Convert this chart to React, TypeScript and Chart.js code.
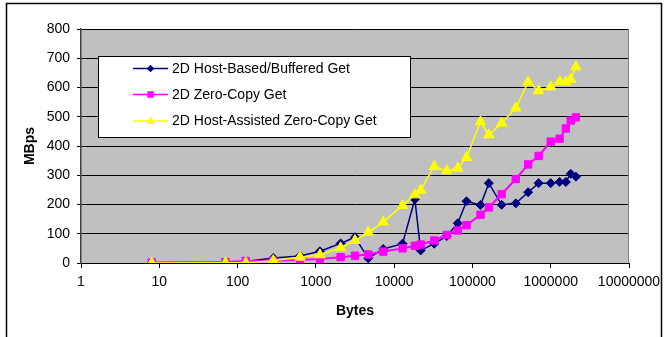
import React, { useEffect, useRef } from 'react';
import { Chart, registerables } from 'chart.js';

Chart.register(...registerables);

const bytes = [8, 70, 127, 286, 627, 1128, 2072, 3160, 4670, 7260, 12800, 18400, 21800, 32500, 47000, 65000, 84000, 127000, 162000, 236000, 358000, 515000, 700000, 1000000, 1300000, 1560000, 1800000, 2100000];
const hostBuffered = [0, 2, 5, 17, 24, 40, 67, 88, 16, 48, 66, 218, 43, 66, 92, 136, 211, 198, 273, 199, 204, 242, 273, 273, 277, 277, 305, 295];
const zeroCopy = [2, 3, 7, 8, 10, 14, 20, 25, 29, 39, 50, 59, 63, 77, 96, 111, 129, 165, 190, 235, 287, 337, 366, 415, 425, 460, 487, 498];
const hostAssisted = [0, 1, 1, 8, 20, 28, 52, 77, 105, 140, 197, 233, 249, 330, 315, 324, 361, 483, 438, 478, 530, 619, 589, 602, 620, 619, 628, 671];

const seriesNames = ['2D Host-Based/Buffered Get', '2D Zero-Copy Get', '2D Host-Assisted Zero-Copy Get'];
const seriesColors = ['#000080', '#FF00FF', '#FFFF00'];
const seriesMarkers = ['rectRot', 'rect', 'triangle'];
const xTickValues = [1, 10, 100, 1000, 10000, 100000, 1000000, 10000000];
const xTitle = 'Bytes';
const yTitle = 'MBps';

const FONT = '"Liberation Sans", Arial, sans-serif';

function drawMarker(ctx: CanvasRenderingContext2D, style: string, x: number, y: number, r: number) {
  ctx.beginPath();
  if (style === 'rectRot') {
    ctx.moveTo(x - r, y);
    ctx.lineTo(x, y - r);
    ctx.lineTo(x + r, y);
    ctx.lineTo(x, y + r);
  } else if (style === 'rect') {
    ctx.rect(x - r, y - r, 2 * r, 2 * r);
  } else {
    ctx.moveTo(x, y - r * 1.1);
    ctx.lineTo(x + r, y + r * 0.7);
    ctx.lineTo(x - r, y + r * 0.7);
  }
  ctx.closePath();
  ctx.fill();
}

const framePlugin = {
  id: 'frame',
  beforeDraw(chart: any) {
    const { ctx, width, height, chartArea: a } = chart;
    ctx.save();
    ctx.fillStyle = '#ffffff';
    ctx.fillRect(0, 0, width, height);
    ctx.strokeStyle = '#000000';
    ctx.lineWidth = 1.5;
    ctx.strokeRect(6.5, 3.5, 655, height + 10);
    ctx.fillStyle = '#C0C0C0';
    ctx.fillRect(a.left, a.top, a.right - a.left, a.bottom - a.top);
    ctx.restore();
  },
  beforeDatasetsDraw(chart: any) {
    const { ctx, chartArea: a } = chart;
    ctx.save();
    ctx.strokeStyle = '#808080';
    ctx.lineWidth = 1;
    const xr = Math.round(a.right) - 0.5;
    ctx.beginPath();
    ctx.moveTo(xr, a.top);
    ctx.lineTo(xr, a.bottom);
    ctx.stroke();
    ctx.restore();
  },
  afterDraw(chart: any) {
    const { ctx } = chart;
    ctx.save();
    const bx = 98.5, by = 56.5, bw = 312, bh = 81;
    ctx.fillStyle = '#ffffff';
    ctx.fillRect(bx, by, bw, bh);
    ctx.strokeStyle = '#000000';
    ctx.lineWidth = 1;
    ctx.strokeRect(bx, by, bw, bh);
    const rows = [68.5, 94.5, 121];
    ctx.font = `14px ${FONT}`;
    ctx.textBaseline = 'middle';
    ctx.textAlign = 'left';
    seriesNames.forEach((name, i) => {
      const y = rows[i];
      ctx.strokeStyle = seriesColors[i];
      ctx.lineWidth = 1.5;
      ctx.beginPath();
      ctx.moveTo(133, y);
      ctx.lineTo(168, y);
      ctx.stroke();
      ctx.fillStyle = seriesColors[i];
      drawMarker(ctx, seriesMarkers[i], 150.5, y, i === 0 ? 3.8 : i === 1 ? 3.2 : 4.2);
      ctx.fillStyle = '#000000';
      ctx.fillText(name, 172, y + 0.5);
    });
    ctx.restore();
  },
};

export default function App() {
  const canvasRef = useRef<HTMLCanvasElement | null>(null);

  useEffect(() => {
    const canvas = canvasRef.current;
    if (!canvas) return;
    const seriesValues = [hostBuffered, zeroCopy, hostAssisted];
    const datasets = seriesValues.map((vals, i) => ({
      label: seriesNames[i],
      data: vals.map((v, j) => ({ x: bytes[j], y: v })),
      borderColor: seriesColors[i],
      backgroundColor: seriesColors[i],
      pointBackgroundColor: seriesColors[i],
      pointBorderColor: seriesColors[i],
      pointBorderWidth: 1,
      pointStyle: seriesMarkers[i],
      pointRadius: i === 0 ? 4.5 : i === 1 ? 5.2 : 6,
      borderWidth: i === 1 ? 2 : 1.5,
      tension: 0,
      fill: false,
      order: 2 - i,
    }));

    const chart = new Chart(canvas, {
      type: 'line',
      data: { datasets },
      plugins: [framePlugin],
      options: {
        responsive: false,
        animation: false,
        devicePixelRatio: 1,
        layout: { padding: { top: 29, right: 39, left: 0, bottom: 0 } },
        plugins: {
          legend: { display: false },
          tooltip: { enabled: false },
        },
        scales: {
          x: {
            type: 'logarithmic',
            min: 1,
            max: 10000000,
            afterBuildTicks: (scale: any) => {
              scale.ticks = xTickValues.map((v) => ({ value: v }));
            },
            afterFit: (scale: any) => {
              scale.height = 74;
            },
            ticks: {
              autoSkip: false,
              maxRotation: 0,
              padding: 6,
              color: '#000000',
              font: { family: FONT, size: 14 },
              callback: (v: any) => String(v),
            },
            grid: {
              drawOnChartArea: false,
              drawTicks: true,
              tickLength: 5,
              tickColor: '#000000',
              color: '#000000',
            },
            border: { color: '#000000', width: 1 },
            title: {
              display: true,
              text: xTitle,
              color: '#000000',
              font: { family: FONT, size: 14, weight: 'bold' },
              padding: { top: 0, bottom: 17 },
            },
          },
          y: {
            type: 'linear',
            min: 0,
            max: 800,
            afterFit: (scale: any) => {
              scale.width = 81;
            },
            ticks: {
              stepSize: 100,
              padding: 7,
              color: '#000000',
              font: { family: FONT, size: 14 },
            },
            grid: {
              color: '#000000',
              lineWidth: 1,
              drawTicks: true,
              tickLength: 4,
              tickColor: '#000000',
            },
            border: { color: '#404040', width: 1.5 },
            title: {
              display: true,
              text: yTitle,
              color: '#000000',
              font: { family: FONT, size: 14, weight: 'bold' },
              padding: { top: 22, bottom: 0 },
            },
          },
        },
      },
    } as any);

    return () => {
      chart.destroy();
    };
  }, []);

  return (
    <div style={{ position: 'absolute', left: 0, top: 0, width: 668, height: 337 }}>
      <canvas ref={canvasRef} width={668} height={337} style={{ display: 'block', width: 668, height: 337 }} />
    </div>
  );
}
